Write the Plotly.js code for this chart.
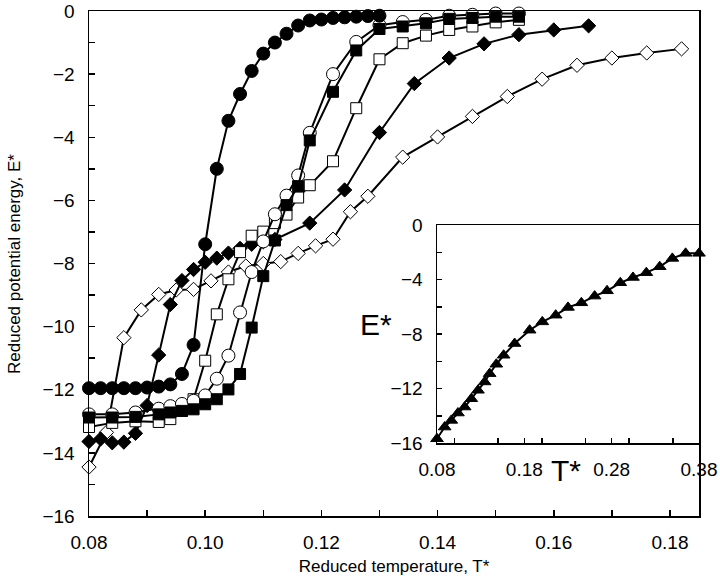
<!DOCTYPE html>
<html>
<head>
<meta charset="utf-8">
<script src="https://cdn.plot.ly/plotly-3.0.1.min.js"></script>
<style>
  html, body { margin: 0; padding: 0; background: #fff; }
  #chart { width: 720px; height: 576px; }
</style>
</head>
<body>
<div id="chart"></div>
<script>
// main panel: reduced potential energy vs reduced temperature
const tFilledCircle = [0.080, 0.082, 0.084, 0.086, 0.088, 0.090, 0.092, 0.094, 0.096, 0.098, 0.100, 0.102, 0.104,
  0.106, 0.108, 0.110, 0.112, 0.114, 0.116, 0.118, 0.120, 0.122, 0.124, 0.126, 0.128, 0.130];
const eFilledCircle = [-11.95, -11.95, -11.95, -11.95, -11.95, -11.93, -11.9, -11.83, -11.5, -10.58, -7.39, -5.0, -3.48,
  -2.63, -1.9, -1.35, -1.0, -0.72, -0.46, -0.3, -0.27, -0.22, -0.2, -0.18, -0.16, -0.15];

const tOpenCircle = [0.080, 0.084, 0.088, 0.092, 0.094, 0.096, 0.098, 0.100, 0.102, 0.104, 0.106, 0.108, 0.110,
  0.112, 0.114, 0.116, 0.118, 0.122, 0.126, 0.130, 0.134, 0.138, 0.142, 0.146, 0.150, 0.154];
const eOpenCircle = [-12.78, -12.78, -12.72, -12.6, -12.52, -12.45, -12.35, -12.18, -11.65, -10.92, -9.55, -8.27, -7.3,
  -6.44, -5.85, -5.21, -3.86, -2.0, -0.98, -0.45, -0.35, -0.28, -0.15, -0.12, -0.08, -0.08];

const tFilledSquare = [0.080, 0.084, 0.088, 0.092, 0.094, 0.096, 0.098, 0.100, 0.102, 0.104, 0.106, 0.108, 0.110,
  0.112, 0.114, 0.116, 0.118, 0.122, 0.126, 0.130, 0.134, 0.138, 0.142, 0.146, 0.150, 0.154];
const eFilledSquare = [-12.88, -12.88, -12.86, -12.78, -12.72, -12.67, -12.62, -12.46, -12.3, -11.99, -11.5, -10.03, -8.4,
  -7.27, -6.15, -5.55, -4.1, -2.56, -1.25, -0.57, -0.49, -0.39, -0.25, -0.22, -0.18, -0.18];

const tOpenSquare = [0.080, 0.084, 0.088, 0.092, 0.094, 0.096, 0.098, 0.100, 0.102, 0.104, 0.106, 0.108, 0.110,
  0.112, 0.114, 0.116, 0.118, 0.122, 0.126, 0.130, 0.134, 0.138, 0.142, 0.146, 0.150, 0.154];
const eOpenSquare = [-13.18, -13.05, -13.0, -13.02, -12.93, -12.67, -12.3, -11.08, -9.61, -8.5, -7.64, -7.12, -6.99,
  -6.72, -6.45, -5.91, -5.52, -4.76, -3.08, -1.53, -1.02, -0.78, -0.6, -0.49, -0.36, -0.28];

const tFilledDiamond = [0.080, 0.082, 0.084, 0.086, 0.088, 0.090, 0.092, 0.094, 0.096, 0.098, 0.100, 0.102, 0.104,
  0.106, 0.108, 0.110, 0.112, 0.118, 0.124, 0.130, 0.136, 0.142, 0.148, 0.154, 0.160, 0.166];
const eFilledDiamond = [-13.64, -13.56, -13.68, -13.66, -13.38, -12.5, -10.9, -9.3, -8.54, -8.19, -7.96, -7.83, -7.67,
  -7.52, -7.39, -7.31, -7.24, -6.72, -5.67, -3.85, -2.3, -1.49, -1.04, -0.75, -0.6, -0.47];

const tOpenDiamond = [0.080, 0.083, 0.086, 0.089, 0.092, 0.095, 0.098, 0.101, 0.104, 0.107, 0.110, 0.113, 0.116,
  0.119, 0.122, 0.125, 0.128, 0.134, 0.140, 0.146, 0.152, 0.158, 0.164, 0.170, 0.176, 0.182];
const eOpenDiamond = [-14.45, -13.35, -10.35, -9.47, -8.98, -8.84, -8.82, -8.55, -8.27, -8.08, -8.0, -7.94, -7.68,
  -7.44, -7.23, -6.36, -5.87, -4.63, -3.99, -3.34, -2.71, -2.16, -1.72, -1.49, -1.33, -1.2];

// inset
const tInset = [0.080, 0.0888, 0.0964, 0.104, 0.1117, 0.1193, 0.1269, 0.1346, 0.1403, 0.1479, 0.1563, 0.1689, 0.1861,
  0.2006, 0.2159, 0.230, 0.2453, 0.2605, 0.2747, 0.2899, 0.3044, 0.3197, 0.335, 0.3495, 0.3647, 0.380];
const eInset = [-15.69, -14.83, -14.34, -13.8, -13.36, -12.75, -12.13, -11.52, -10.91, -10.22, -9.56, -8.7, -7.72,
  -7.11, -6.62, -6.05, -5.71, -5.22, -4.83, -4.24, -3.85, -3.5, -3.06, -2.45, -2.08, -2.08];

const fontFam = "Liberation Sans, Arial, sans-serif";

function serie(x, y, symbol, filled, size, xa, ya) {
    return {
        x: x,
        y: y,
        xaxis: xa || "x",
        yaxis: ya || "y",
        mode: "lines+markers",
        cliponaxis: false,
        line: { color: "#000", width: 2 },
        marker: {
            symbol: symbol,
            size: size,
            color: filled ? "#000" : "#fff",
            line: { color: "#000", width: 1 },
        },
        showlegend: false,
        hoverinfo: "x+y",
    };
}

const traces = [
    serie(tOpenDiamond, eOpenDiamond, "diamond", false, 11),
    serie(tFilledDiamond, eFilledDiamond, "diamond", true, 11),
    serie(tOpenSquare, eOpenSquare, "square", false, 11),
    serie(tOpenCircle, eOpenCircle, "circle", false, 13),
    serie(tFilledSquare, eFilledSquare, "square", true, 11),
    serie(tFilledCircle, eFilledCircle, "circle", true, 13),
    serie(tInset, eInset, "triangle-up", true, 11, "x2", "y2"),
];

const axisBase = {
    showgrid: false,
    zeroline: false,
    showline: true,
    linecolor: "#000",
    linewidth: 1.5,
    mirror: true,
    ticks: "inside",
    ticklen: 6,
    tickwidth: 1.5,
    tickcolor: "#000",
    tickfont: { family: fontFam, size: 19, color: "#000" },
    ticklabelstandoff: 9,
    ticklabeloverflow: "allow",
};

// pixel -> paper helpers (plot area is 89..699 x 11..516)
const px = (v) => (v - 89) / 610;
const py = (v) => (516 - v) / 505;

const layout = {
    width: 720,
    height: 576,
    paper_bgcolor: "#fff",
    plot_bgcolor: "#fff",
    margin: { t: 11, r: 21, b: 60, l: 89 },
    font: { family: fontFam, color: "#000" },
    xaxis: {
        ...axisBase,
        domain: [0, 1],
        range: [0.08, 0.185],
        tick0: 0.08,
        dtick: 0.02,
        tickformat: ".2f",
        minor: { dtick: 0.01, ticks: "inside", ticklen: 6, tickwidth: 1.5, tickcolor: "#000" },
        title: { text: "Reduced temperature, T*", font: { family: fontFam, size: 17 }, standoff: 8 },
    },
    yaxis: {
        ...axisBase,
        domain: [0, 1],
        range: [-16, 0],
        dtick: 2,
        minor: { dtick: 1, ticks: "inside", ticklen: 6, tickwidth: 1.5, tickcolor: "#000" },
    },
    xaxis2: {
        ...axisBase,
        anchor: "y2",
        domain: [px(437), 1],
        range: [0.08, 0.38],
        tick0: 0.08,
        dtick: 0.1,
        tickformat: ".2f",
        ticklen: 5,
        minor: { dtick: 0.05, ticks: "inside", ticklen: 5, tickwidth: 1.5, tickcolor: "#000" },
    },
    yaxis2: {
        ...axisBase,
        anchor: "x2",
        domain: [py(443), py(225)],
        range: [-16, 0],
        dtick: 4,
        ticklen: 5,
        minor: { dtick: 2, ticks: "inside", ticklen: 5, tickwidth: 1.5, tickcolor: "#000" },
    },
    annotations: [
        {
            text: "Reduced potential energy, E*",
            xref: "paper", yref: "paper",
            x: px(14), y: py(264),
            xanchor: "center", yanchor: "middle",
            textangle: -90,
            showarrow: false,
            font: { family: fontFam, size: 17, color: "#000" },
        },
        {
            text: "E*",
            xref: "paper", yref: "paper",
            x: px(376), y: py(324),
            xanchor: "center", yanchor: "middle",
            showarrow: false,
            font: { family: fontFam, size: 30, color: "#000" },
        },
        {
            text: "T*",
            xref: "paper", yref: "paper",
            x: px(566), y: py(470),
            xanchor: "center", yanchor: "middle",
            showarrow: false,
            font: { family: fontFam, size: 30, color: "#000" },
        },
    ],
};

Plotly.newPlot("chart", traces, layout, { displayModeBar: false, staticPlot: true });
</script>
</body>
</html>
